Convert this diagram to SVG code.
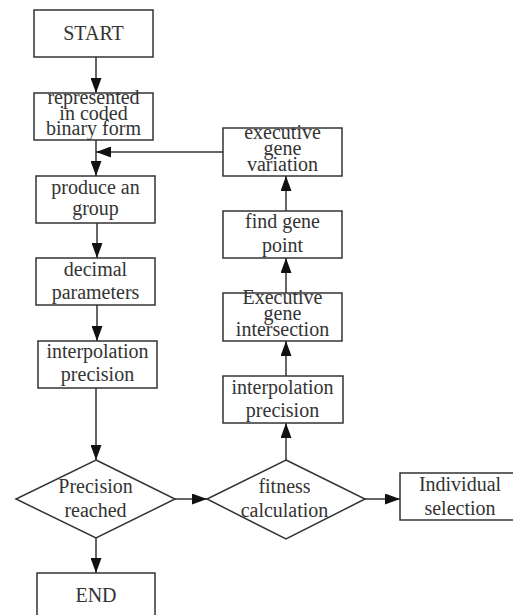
<svg xmlns="http://www.w3.org/2000/svg" width="513" height="615" viewBox="0 0 513 615">
<style>
.n{fill:#fff;stroke:#333;stroke-width:1.5}
.c{fill:none;stroke:#333;stroke-width:1.5}
text{font-family:"Liberation Serif","Times New Roman",serif;font-size:20px;fill:#333;text-anchor:middle}
</style>
<defs>
<marker id="ah" markerUnits="userSpaceOnUse" markerWidth="15" markerHeight="11" refX="15" refY="5.5" orient="auto">
<path d="M0,0 L15,5.5 L0,11 z" fill="#111"/>
</marker>
</defs>
<rect width="513" height="615" fill="#fff"/>
<g id="connectors">
<line class="c" x1="96" y1="57" x2="96" y2="93" marker-end="url(#ah)"/>
<line class="c" x1="96" y1="140" x2="96" y2="176" marker-end="url(#ah)"/>
<line class="c" x1="223" y1="152" x2="96" y2="152" marker-end="url(#ah)"/>
<line class="c" x1="97" y1="223" x2="97" y2="258" marker-end="url(#ah)"/>
<line class="c" x1="97" y1="305" x2="97" y2="341" marker-end="url(#ah)"/>
<line class="c" x1="96" y1="388" x2="96" y2="460" marker-end="url(#ah)"/>
<line class="c" x1="96" y1="538" x2="96" y2="573" marker-end="url(#ah)"/>
<line class="c" x1="175" y1="499" x2="207" y2="499" marker-end="url(#ah)"/>
<line class="c" x1="365" y1="499" x2="400" y2="499" marker-end="url(#ah)"/>
<line class="c" x1="286" y1="460" x2="286" y2="423" marker-end="url(#ah)"/>
<line class="c" x1="286" y1="376" x2="286" y2="341" marker-end="url(#ah)"/>
<line class="c" x1="286" y1="293" x2="286" y2="258" marker-end="url(#ah)"/>
<line class="c" x1="286" y1="211" x2="286" y2="176" marker-end="url(#ah)"/>
</g>
<g id="start"><rect class="n" x="34" y="10" width="119" height="47"/><text x="93.5" y="40">START</text></g>
<g id="coded"><rect class="n" x="34" y="93" width="119" height="47"/><text x="93.5" y="104">represented</text><text x="93.5" y="119.5">in coded</text><text x="93.5" y="135">binary form</text></g>
<g id="group"><rect class="n" x="36" y="176" width="119" height="47"/><text x="95.5" y="194">produce an</text><text x="95.5" y="215">group</text></g>
<g id="decimal"><rect class="n" x="36" y="258" width="119" height="47"/><text x="95.5" y="276">decimal</text><text x="95.5" y="299">parameters</text></g>
<g id="interp1"><rect class="n" x="38" y="341" width="119" height="47"/><text x="97.5" y="358">interpolation</text><text x="97.5" y="381">precision</text></g>
<g id="reached"><polygon class="n" points="96,460 175,499 96,538 16,499"/><text x="95.5" y="492.5">Precision</text><text x="95.5" y="516.5">reached</text></g>
<g id="end"><rect class="n" x="37" y="573" width="118" height="50"/><text x="96" y="601.5">END</text></g>
<g id="fitness"><polygon class="n" points="286,460 365,499 286,539 207,499"/><text x="284.5" y="492.5">fitness</text><text x="284.5" y="516.5">calculation</text></g>
<g id="selection"><rect class="n" x="400" y="473" width="116" height="47"/><text x="460" y="490.5">Individual</text><text x="460" y="514.5">selection</text></g>
<g id="interp2"><rect class="n" x="223" y="376" width="120" height="47"/><text x="282.5" y="393.5">interpolation</text><text x="282.5" y="416.5">precision</text></g>
<g id="intersection"><rect class="n" x="223" y="293" width="119" height="48"/><text x="282.5" y="304">Executive</text><text x="282.5" y="320">gene</text><text x="282.5" y="336">intersection</text></g>
<g id="point"><rect class="n" x="223" y="211" width="119" height="47"/><text x="282.5" y="228">find gene</text><text x="282.5" y="251.5">point</text></g>
<g id="variation"><rect class="n" x="223" y="128" width="119" height="48"/><text x="282.5" y="138.5">executive</text><text x="282.5" y="155">gene</text><text x="282.5" y="171">variation</text></g>
</svg>
